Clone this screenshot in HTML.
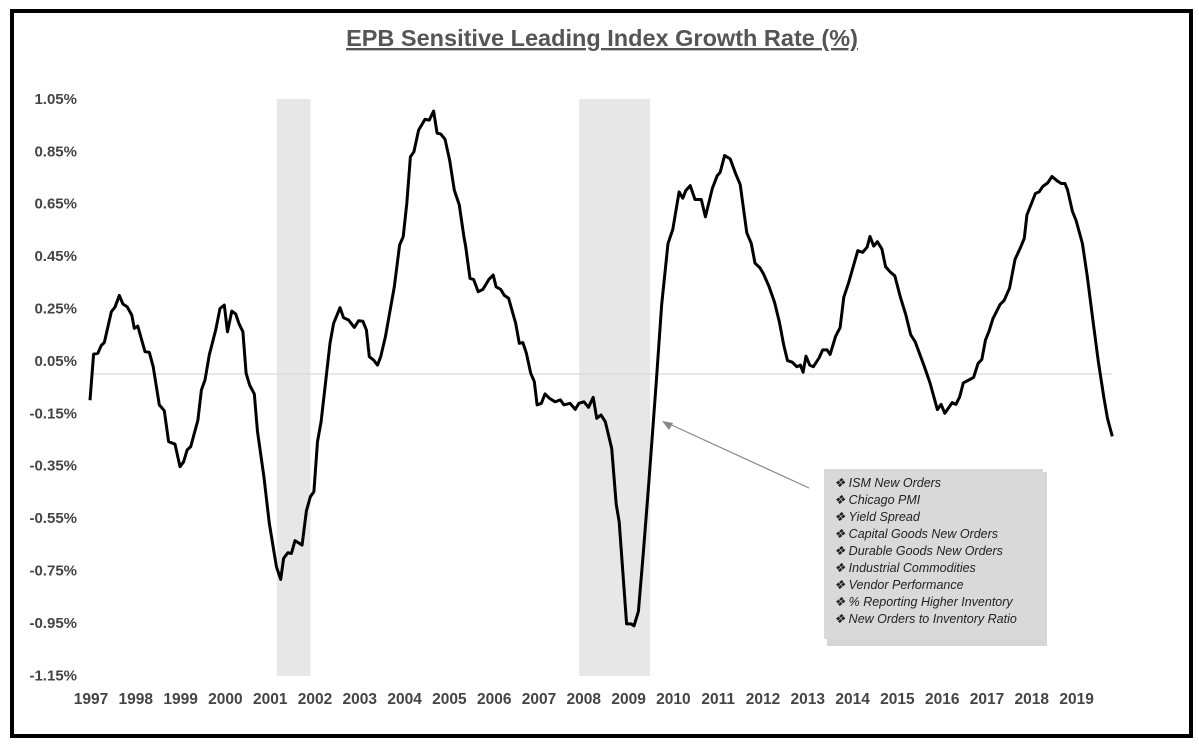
<!DOCTYPE html>
<html><head><meta charset="utf-8"><style>
body{margin:0;background:#fff;}
svg text{font-family:"Liberation Sans",sans-serif;}
</style></head><body>
<svg width="1199" height="747" viewBox="0 0 1199 747">
<rect x="12" y="11" width="1179" height="725" fill="#fff" stroke="#000" stroke-width="4"/>
<text x="602" y="46" text-anchor="middle" font-size="23.5" font-weight="bold" fill="#555" text-decoration="underline">EPB Sensitive Leading Index Growth Rate (%)</text>
<g id="bands"></g>
<g id="axes"></g>
<path id="line" fill="none" stroke="#000" stroke-width="3" stroke-linejoin="round"/>
<line x1="809" y1="488" x2="665" y2="422" stroke="#888" stroke-width="1.2"/>
<polygon points="662,421 673,423 669,430" fill="#888"/>
<rect x="827" y="472" width="220" height="174" fill="#bbb" opacity="0.6"/>
<rect x="824" y="469" width="219" height="170" fill="#d9d9d9"/>
<g id="comps" font-size="12.5" font-style="italic" fill="#222"></g>
</svg>
<script>
const years=[1997,1997.08,1997.175,1997.255,1997.319,1997.478,1997.558,1997.654,1997.734,1997.829,1997.932,1997.988,1998.068,1998.228,1998.323,1998.411,1998.547,1998.659,1998.754,1998.897,1999.009,1999.089,1999.168,1999.248,1999.408,1999.487,1999.567,1999.663,1999.806,1999.902,1999.997,2000.069,2000.165,2000.253,2000.324,2000.413,2000.485,2000.563,2000.667,2000.739,2000.882,2001.002,2001.161,2001.257,2001.321,2001.417,2001.496,2001.576,2001.735,2001.831,2001.92,2001.998,2002.078,2002.158,2002.277,2002.357,2002.437,2002.58,2002.661,2002.772,2002.899,2002.995,2003.091,2003.17,2003.234,2003.33,2003.417,2003.489,2003.594,2003.792,2003.911,2003.991,2004.071,2004.151,2004.23,2004.335,2004.478,2004.573,2004.669,2004.748,2004.828,2004.924,2005.027,2005.132,2005.243,2005.346,2005.386,2005.482,2005.562,2005.665,2005.77,2005.904,2006.0,2006.065,2006.167,2006.248,2006.343,2006.502,2006.582,2006.662,2006.741,2006.837,2006.917,2006.981,2007.076,2007.156,2007.259,2007.379,2007.499,2007.579,2007.714,2007.833,2007.913,2008.025,2008.127,2008.232,2008.311,2008.407,2008.503,2008.646,2008.746,2008.813,2008.978,2009.077,2009.143,2009.241,2009.348,2009.473,2009.638,2009.761,2009.902,2010.009,2010.15,2010.232,2010.299,2010.397,2010.504,2010.645,2010.737,2010.893,2011.0,2011.067,2011.165,2011.29,2011.413,2011.513,2011.661,2011.761,2011.843,2011.951,2012.033,2012.156,2012.281,2012.388,2012.487,2012.569,2012.677,2012.776,2012.859,2012.917,2012.982,2013.065,2013.147,2013.272,2013.354,2013.453,2013.519,2013.643,2013.743,2013.825,2013.933,2014.138,2014.246,2014.346,2014.411,2014.494,2014.576,2014.676,2014.759,2014.866,2014.964,2015.089,2015.212,2015.319,2015.419,2015.625,2015.75,2015.915,2015.998,2016.08,2016.246,2016.328,2016.411,2016.493,2016.616,2016.723,2016.824,2016.906,2016.989,2017.069,2017.154,2017.317,2017.402,2017.525,2017.647,2017.772,2017.855,2017.913,2018.103,2018.185,2018.268,2018.375,2018.473,2018.598,2018.68,2018.763,2018.821,2018.929,2019.011,2019.152,2019.259,2019.382,2019.507,2019.63,2019.712,2019.819];
const values=[-0.10,0.076,0.079,0.11,0.12,0.238,0.255,0.30,0.267,0.257,0.225,0.174,0.183,0.085,0.083,0.028,-0.118,-0.14,-0.258,-0.268,-0.354,-0.335,-0.29,-0.277,-0.176,-0.061,-0.023,0.073,0.168,0.25,0.263,0.161,0.24,0.229,0.193,0.161,0.003,-0.042,-0.076,-0.22,-0.392,-0.57,-0.735,-0.784,-0.704,-0.682,-0.685,-0.636,-0.653,-0.522,-0.468,-0.449,-0.258,-0.182,-0.004,0.117,0.193,0.253,0.215,0.206,0.178,0.203,0.201,0.168,0.066,0.053,0.034,0.066,0.142,0.333,0.492,0.524,0.651,0.829,0.848,0.931,0.972,0.969,1.004,0.919,0.916,0.896,0.817,0.702,0.645,0.524,0.486,0.365,0.361,0.314,0.323,0.361,0.378,0.333,0.323,0.30,0.289,0.193,0.117,0.12,0.079,0.003,-0.029,-0.118,-0.112,-0.076,-0.093,-0.106,-0.099,-0.118,-0.112,-0.135,-0.112,-0.106,-0.127,-0.089,-0.169,-0.156,-0.182,-0.284,-0.497,-0.565,-0.954,-0.954,-0.961,-0.906,-0.688,-0.416,-0.034,0.266,0.498,0.552,0.695,0.671,0.70,0.719,0.666,0.666,0.60,0.709,0.757,0.77,0.834,0.821,0.764,0.723,0.539,0.498,0.423,0.406,0.382,0.334,0.273,0.198,0.109,0.051,0.045,0.028,0.034,0.007,0.068,0.034,0.028,0.061,0.092,0.092,0.075,0.144,0.177,0.293,0.348,0.471,0.464,0.484,0.525,0.488,0.505,0.477,0.409,0.389,0.375,0.293,0.225,0.15,0.123,0.028,-0.034,-0.136,-0.116,-0.15,-0.109,-0.116,-0.088,-0.034,-0.023,-0.013,0.041,0.055,0.13,0.164,0.211,0.266,0.28,0.327,0.437,0.484,0.518,0.607,0.689,0.695,0.716,0.729,0.754,0.736,0.727,0.727,0.702,0.621,0.586,0.498,0.375,0.211,0.048,-0.088,-0.17,-0.238];
const yTicks=[1.05,0.85,0.65,0.45,0.25,0.05,-0.15,-0.35,-0.55,-0.75,-0.95,-1.15];
const xLabels=[1997,1998,1999,2000,2001,2002,2003,2004,2005,2006,2007,2008,2009,2010,2011,2012,2013,2014,2015,2016,2017,2018,2019];
const recessions=[[2001.17,2001.92],[2007.92,2009.5]];
const components=["ISM New Orders","Chicago PMI","Yield Spread","Capital Goods New Orders","Durable Goods New Orders","Industrial Commodities","Vendor Performance","% Reporting Higher Inventory","New Orders to Inventory Ratio"];
const NS="http://www.w3.org/2000/svg";
const xs=y=>90+(y-1997)*44.8;
const ys=v=>374-v*262;
function mk(tag,attrs,parent){const e=document.createElementNS(NS,tag);for(const k in attrs)e.setAttribute(k,attrs[k]);parent.appendChild(e);return e;}
const bands=document.getElementById('bands');
recessions.forEach(r=>{
 const e=mk('rect',{x:xs(r[0]),y:99,width:xs(r[1])-xs(r[0]),height:577,fill:'#e7e7e7'},bands);
 
 
});
const axes=document.getElementById('axes');
const zl=mk('line',{x1:90,x2:1112,y1:ys(0),y2:ys(0),stroke:'#d9d9d9','stroke-width':1.3},axes);


yTicks.forEach(v=>{
 const t=mk('text',{x:77,y:ys(v)+5,'text-anchor':'end','font-size':15,'font-weight':'bold',fill:'#444'},axes);
 t.textContent=v.toFixed(2)+'%';
 
 
});
xLabels.forEach(y=>{
 const t=mk('text',{x:Math.max(91,xs(y)+1),y:704,'text-anchor':'middle','font-size':15.5,'font-weight':'bold',fill:'#444'},axes);
 t.textContent=y;
 
 
});
document.getElementById('line').setAttribute('d',years.map((y,i)=>(i?'L':'M')+xs(y).toFixed(1)+' '+ys(values[i]).toFixed(1)).join(''));
const comps=document.getElementById('comps');
components.forEach((c,i)=>{
 const t=mk('text',{x:834,y:487+i*17},comps);
 t.textContent='\u2756 '+c;
 
 
});
</script>
</body></html>
